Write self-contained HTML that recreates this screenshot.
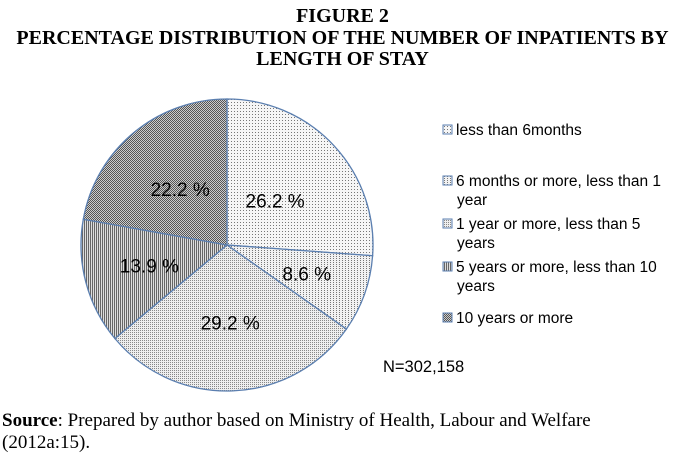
<!DOCTYPE html>
<html><head><meta charset="utf-8">
<style>
body{margin:0;background:#fff;width:685px;height:459px;overflow:hidden;position:relative}
.title{position:absolute;left:0;width:685px;text-align:center;font:bold 20px "Liberation Serif",serif;line-height:21.5px;top:6px;white-space:nowrap}
.src{position:absolute;left:2px;top:410px;font:19px "Liberation Serif",serif;line-height:22px;white-space:nowrap}
</style></head><body>
<div class="title">FIGURE 2<br>PERCENTAGE DISTRIBUTION OF THE NUMBER OF INPATIENTS BY<br>LENGTH OF STAY</div>
<svg id="chart" width="685" height="459" style="position:absolute;left:0;top:0">
<defs>
<pattern id="p0" width="3" height="3" patternUnits="userSpaceOnUse"><rect width="3" height="3" fill="#f6f6f6"/><rect width="1" height="1" fill="#777"/></pattern>
<pattern id="p1" width="3" height="2" patternUnits="userSpaceOnUse"><rect width="3" height="2" fill="#f2f2f2"/><rect width="1" height="1" fill="#777"/></pattern>
<pattern id="p2" width="2" height="2" patternUnits="userSpaceOnUse"><rect width="2" height="2" fill="#eee"/><rect width="1" height="1" fill="#888"/></pattern>
<pattern id="p3" width="2" height="2" patternUnits="userSpaceOnUse"><rect width="2" height="2" fill="#ddd"/><rect width="1" height="2" fill="#666"/></pattern>
<pattern id="p4" width="2" height="2" patternUnits="userSpaceOnUse"><rect width="2" height="2" fill="#ccc"/><rect width="1" height="1" fill="#555"/><rect x="1" y="1" width="1" height="1" fill="#555"/></pattern>
</defs>
<g id="slices"></g>
<text x="383" y="372" font-family="Liberation Sans, sans-serif" font-size="16.5">N=302,158</text>
</svg>
<div class="src"><b>Source</b>: Prepared by author based on Ministry of Health, Labour and Welfare<br>(2012a:15).</div>
<script>
const categories=["less than 6months","6 months or more, less than 1 year","1 year or more, less than 5 years","5 years or more, less than 10 years","10 years or more"];
const values=[26.2,8.6,29.2,13.9,22.2];
const valueLabels=["26.2 %","8.6 %","29.2 %","13.9 %","22.2 %"];
const legendLines=[["less than 6months"],["6 months or more, less than 1","year"],["1 year or more, less than 5","years"],["5 years or more, less than 10","years"],["10 years or more"]];
const NS="http://www.w3.org/2000/svg";
const cx=227,cy=245,r=146;
const g=document.getElementById('slices');
const svg=document.getElementById('chart');
const total=values.reduce((a,b)=>a+b,0);
const labelR=[0.45,0.58,0.53,0.55,0.5];
let a0=0;
function pt(a,rr){return [cx+rr*Math.sin(a),cy-rr*Math.cos(a)];}
values.forEach((v,i)=>{
  const a1=a0+v/total*2*Math.PI;
  const [x0,y0]=pt(a0,r),[x1,y1]=pt(a1,r);
  const p=document.createElementNS(NS,'path');
  p.setAttribute('d',`M${cx},${cy}L${x0},${y0}A${r},${r} 0 ${a1-a0>Math.PI?1:0} 1 ${x1},${y1}Z`);
  p.setAttribute('fill',`url(#p${i})`);
  p.setAttribute('stroke','#5b7fb0');p.setAttribute('stroke-width','1.3');
  
  
  g.appendChild(p);
  const am=(a0+a1)/2;const [lx,ly]=pt(am,r*labelR[i]);
  const t=document.createElementNS(NS,'text');
  t.setAttribute('x',lx);t.setAttribute('y',ly+7);t.setAttribute('text-anchor','middle');
  t.setAttribute('font-family','Liberation Sans, sans-serif');t.setAttribute('font-size','19');
  t.textContent=valueLabels[i];
  
  
  svg.appendChild(t);
  a0=a1;
});
const ly0=[135,186,229,272,323];
legendLines.forEach((lines,i)=>{
  const s=document.createElementNS(NS,'rect');
  s.setAttribute('x',443);s.setAttribute('y',ly0[i]-10);s.setAttribute('width',9);s.setAttribute('height',9);
  s.setAttribute('fill',`url(#p${i})`);s.setAttribute('stroke','#5b7fb0');
  
  
  svg.appendChild(s);
  lines.forEach((ln,j)=>{
    const t=document.createElementNS(NS,'text');
    t.setAttribute('x',j?457:456);t.setAttribute('y',ly0[i]+j*19);
    t.setAttribute('font-family','Liberation Sans, sans-serif');t.setAttribute('font-size','15.5');
    t.textContent=ln;
    
    
    svg.appendChild(t);
  });
});
</script>
</body></html>
